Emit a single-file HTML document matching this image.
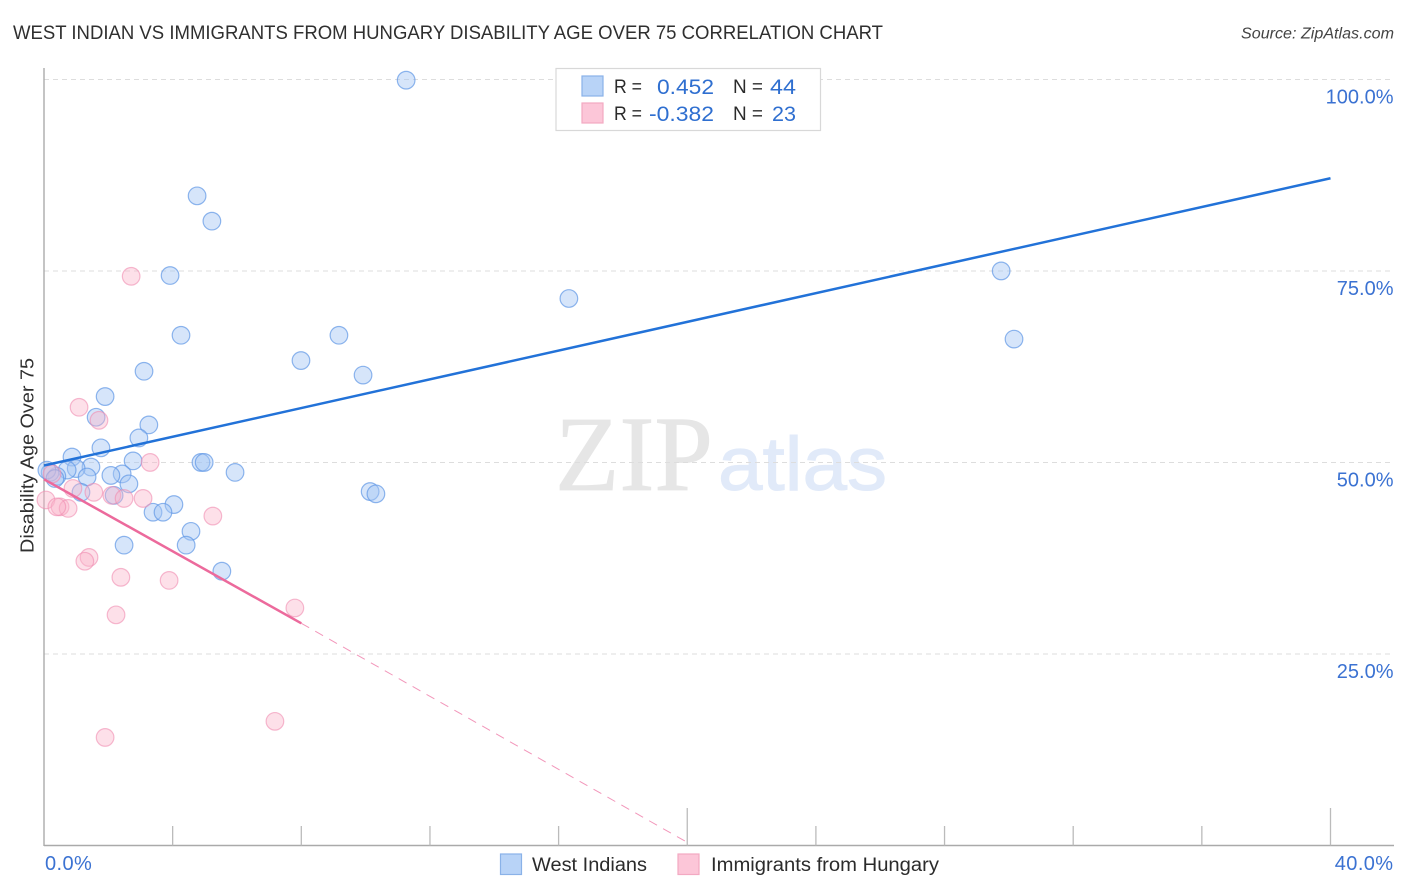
<!DOCTYPE html>
<html lang="en">
<head>
<meta charset="utf-8">
<title>West Indian vs Immigrants from Hungary Disability Age Over 75 Correlation Chart</title>
<style>
html,body{margin:0;padding:0;background:#fff;}
svg{display:block;font-family:"Liberation Sans",sans-serif;}
</style>
</head>
<body>
<svg id="chart" xmlns="http://www.w3.org/2000/svg" width="1406" height="892" viewBox="0 0 1406 892">
  <rect x="0" y="0" width="1406" height="892" fill="#ffffff"/>
  <text x="13" y="39" font-size="19.500" fill="#2f2f2f" textLength="870" lengthAdjust="spacingAndGlyphs">WEST INDIAN VS IMMIGRANTS FROM HUNGARY DISABILITY AGE OVER 75 CORRELATION CHART</text>
  <text x="1241" y="38.500" font-size="15.500" font-style="italic" fill="#444444" textLength="153" lengthAdjust="spacingAndGlyphs">Source: ZipAtlas.com</text>

  <g>
    <text x="555" y="490" font-family="'Liberation Serif',serif" font-size="107" fill="#e6e6e6" stroke="#e6e6e6" stroke-width="0.800" textLength="158" lengthAdjust="spacingAndGlyphs">ZIP</text>
    <text x="718" y="490" font-size="76" fill="#e1eaf9" stroke="#e1eaf9" stroke-width="1" textLength="169" lengthAdjust="spacingAndGlyphs">atlas</text>
  </g>

  <g id="grid"></g>
  <g id="axes"></g>
  <g id="trend-under"></g>
  <g id="points"></g>
  <g id="y-labels"></g>
  <g id="x-labels"></g>

  <text transform="translate(33.500,455.500) rotate(-90)" text-anchor="middle" font-size="18" fill="#2f2f2f" textLength="195" lengthAdjust="spacingAndGlyphs">Disability Age Over 75</text>

  <g>
    <rect x="556" y="68.500" width="264.500" height="62" fill="#ffffff" stroke="#d8d8d8" stroke-width="1.200"/>
    <rect x="582" y="76" width="21" height="20" fill="#b8d3f7" stroke="#8ab2e8" stroke-width="1.200"/>
    <text x="614" y="93" font-size="19" fill="#2b2b2b" textLength="28" lengthAdjust="spacingAndGlyphs">R =</text>
    <text x="714" y="94" font-size="21" fill="#2f6fd0" text-anchor="end" textLength="57" lengthAdjust="spacingAndGlyphs">0.452</text>
    <text x="733" y="93" font-size="19" fill="#2b2b2b" textLength="30" lengthAdjust="spacingAndGlyphs">N =</text>
    <text x="796" y="94" font-size="21" fill="#2f6fd0" text-anchor="end" textLength="26" lengthAdjust="spacingAndGlyphs">44</text>
    <rect x="582" y="103" width="21" height="20" fill="#fcc6d8" stroke="#f3a9c2" stroke-width="1.200"/>
    <text x="614" y="120" font-size="19" fill="#2b2b2b" textLength="28" lengthAdjust="spacingAndGlyphs">R =</text>
    <text x="714" y="121" font-size="21" fill="#2f6fd0" text-anchor="end" textLength="65" lengthAdjust="spacingAndGlyphs">-0.382</text>
    <text x="733" y="120" font-size="19" fill="#2b2b2b" textLength="30" lengthAdjust="spacingAndGlyphs">N =</text>
    <text x="796" y="121" font-size="21" fill="#2f6fd0" text-anchor="end" textLength="24" lengthAdjust="spacingAndGlyphs">23</text>
  </g>

  <g>
    <rect x="500.500" y="854" width="21" height="20.500" fill="#b8d3f7" stroke="#8ab2e8" stroke-width="1.200"/>
    <text x="532" y="871" font-size="19" fill="#2b2b2b" textLength="115" lengthAdjust="spacingAndGlyphs">West Indians</text>
    <rect x="678" y="854" width="21" height="20.500" fill="#fcc6d8" stroke="#f3a9c2" stroke-width="1.200"/>
    <text x="711" y="871" font-size="19" fill="#2b2b2b" textLength="228" lengthAdjust="spacingAndGlyphs">Immigrants from Hungary</text>
  </g>
</svg>

<script>
// Data (x = West Indian share %, y = disability age over 75 %)
const blueX = [11.26,4.76,5.22,3.92,4.26,3.11,1.90,1.62,3.26,2.95,1.77,0.87,2.77,1.46,1.00,0.72,2.43,2.08,1.34,0.40,0.19,2.64,1.15,2.18,4.04,3.39,3.70,4.57,2.49,4.42,5.53,4.88,4.98,5.94,7.99,9.17,9.92,10.14,10.32,16.32,29.76,30.16,0.09,0.34];
const blueY = [100,84.9,81.6,74.5,66.7,62.0,58.7,56.0,55.0,53.3,52.0,50.8,50.3,49.5,49.3,49.1,48.6,48.4,48.2,48.3,48.8,47.3,46.2,45.8,44.6,43.6,43.6,41.1,39.3,39.3,35.9,50.1,50.1,48.8,63.4,66.7,61.5,46.3,46.0,71.5,75.1,66.2,49.1,48.0];
const pinkX = [2.71,1.09,1.71,3.30,0.25,0.06,0.50,0.75,0.40,0.90,1.55,2.11,2.49,3.08,5.25,1.40,1.27,2.39,3.89,2.24,7.80,7.18,1.90];
const pinkY = [74.4,57.3,55.6,50.1,48.6,45.2,44.3,44.1,44.3,46.7,46.2,45.8,45.4,45.4,43.1,37.7,37.2,35.1,34.7,30.2,31.1,16.3,14.2];
const blueTrendX = [0,40];
const blueTrendY = [49.7,87.2];
const pinkTrendX = [0,8];
const pinkTrendY = [47.9,29.1];
const pinkDashX = [8,20];
const pinkDashY = [29.1,0.5];
const yTickValues = [100,75,50,25];
const yTickLabels = ["100.0%","75.0%","50.0%","25.0%"];
const xTickValues = [4,8,12,16,20,24,28,32,36,40];
const xMajorTicks = [20,40];
const xEndValues = [0,40];
const xEndLabels = ["0.0%","40.0%"];

// Axis functions
const X0 = 44, X40 = 1330.5, Y0 = 846.2, Y100 = 80.2;
function xs(v){ return X0 + (X40 - X0) * v / 40; }
function ys(v){ return Y0 - (Y0 - Y100) * v / 100; }

const NS = "http://www.w3.org/2000/svg";
function make(tag, attrs, parent){
  const el = document.createElementNS(NS, tag);
  for (const k in attrs) el.setAttribute(k, attrs[k]);
  parent.appendChild(el);
  return el;
}
const gridG = document.getElementById("grid");
const axesG = document.getElementById("axes");
const trendG = document.getElementById("trend-under");
const pointsG = document.getElementById("points");
const yLabG = document.getElementById("y-labels");
const xLabG = document.getElementById("x-labels");

yTickValues.forEach(function(v, i){
  const g = make("line", {x1:X0, x2:1394, y1:ys(v)-0.7, y2:ys(v)-0.7, stroke:"#dddddd", "stroke-width":1, "stroke-dasharray":"5 4"}, gridG);
  
  
  const t = make("text", {x:1393.5, y:ys(v)+23.5, "text-anchor":"end", "font-size":20, fill:"#3b72d2"}, yLabG);
  t.textContent = yTickLabels[i];
  
  
});

const yAxis = make("line", {x1:X0, x2:X0, y1:68, y2:846, stroke:"#aaaaaa", "stroke-width":1.4}, axesG);


const xAxis = make("line", {x1:X0, x2:1394, y1:845.5, y2:845.5, stroke:"#aaaaaa", "stroke-width":1.4}, axesG);



xTickValues.forEach(function(v){
  const top = xMajorTicks.indexOf(v) >= 0 ? 808 : 826;
  const tk = make("line", {x1:xs(v), x2:xs(v), y1:top, y2:845.5, stroke:"#bbbbbb", "stroke-width":1.3}, axesG);
  
  
});

xEndValues.forEach(function(v, i){
  const t = make("text", {x: i === 0 ? xs(v)+1 : 1393.5, y:870, "text-anchor": i === 0 ? "start" : "end", "font-size":20, "letter-spacing":0.4, fill:"#3b72d2"}, xLabG);
  t.textContent = xEndLabels[i];
  
  
});

blueX.forEach(function(v, i){
  const c = make("circle", {cx:xs(v), cy:ys(blueY[i]), r:8.8, fill:"#a5c6f4", "fill-opacity":0.45, stroke:"#5f97e6", "stroke-opacity":0.7, "stroke-width":1.2}, pointsG);
  
  
});
pinkX.forEach(function(v, i){
  const c = make("circle", {cx:xs(v), cy:ys(pinkY[i]), r:8.8, fill:"#fab4cb", "fill-opacity":0.42, stroke:"#f08cb0", "stroke-opacity":0.6, "stroke-width":1.2}, pointsG);
  
  
});

const bl = make("line", {x1:xs(blueTrendX[0]), y1:ys(blueTrendY[0]), x2:xs(blueTrendX[1]), y2:ys(blueTrendY[1]), stroke:"#2272d8", "stroke-width":2.5}, pointsG);


const pl = make("line", {x1:xs(pinkTrendX[0]), y1:ys(pinkTrendY[0]), x2:xs(pinkTrendX[1]), y2:ys(pinkTrendY[1]), stroke:"#ec6a9c", "stroke-width":2.5}, pointsG);


const pd = make("line", {x1:xs(pinkDashX[0]), y1:ys(pinkDashY[0]), x2:xs(pinkDashX[1]), y2:ys(pinkDashY[1]), stroke:"#ec6a9c", "stroke-width":1, "stroke-opacity":0.7, "stroke-dasharray":"9 7"}, trendG);


</script>
</body>
</html>
